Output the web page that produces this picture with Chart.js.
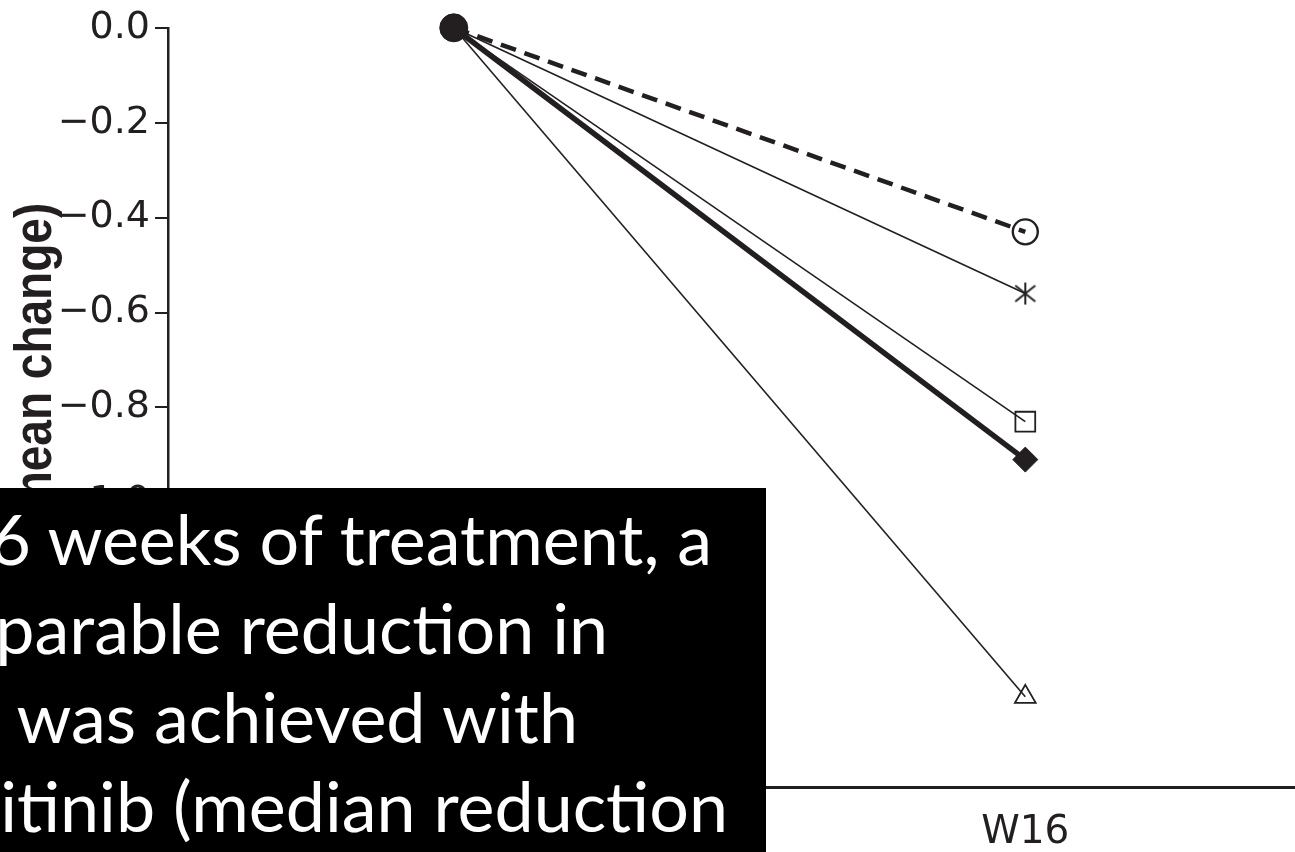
<!DOCTYPE html>
<html>
<head>
<meta charset="utf-8">
<script src="https://cdn.jsdelivr.net/npm/chart.js@4.4.0/dist/chart.umd.min.js"></script>
<style>
  html, body { margin: 0; padding: 0; background: #fff; overflow: hidden; }
  #wrap { position: relative; width: 1295px; height: 852px; }
  #chart { position: absolute; left: 0; top: 0; }
  #note { position: absolute; left: 0; top: 488px; width: 766px; height: 364px; background: #000; overflow: hidden; }
  #note div { position: absolute; white-space: pre; color: #fff; font-family: Lato, "Open Sans", sans-serif; font-size: 70px; line-height: 89px; text-align: right; }
</style>
</head>
<body>
<div id="wrap">
  <canvas id="chart" width="1295" height="852"></canvas>
  <div id="note">
    <div style="right:54px; top:6px">6 weeks of treatment, a</div>
    <div style="right:158px; top:95px">parable reduction in</div>
    <div style="right:188px; top:184px"> was achieved with</div>
    <div style="right:38px; top:273px">itinib (median reduction</div>
  </div>
</div>
<script>
// Visit weeks and mean change per treatment arm
const weeks = [0, 16];
const armCircle   = [0, -0.43];
const armStar     = [0, -0.56];
const armSquare   = [0, -0.83];
const armDiamond  = [0, -0.91];
const armTriangle = [0, -1.41];

// Axis ticks
const yTickValues = [0, -0.2, -0.4, -0.6, -0.8, -1.0, -1.2, -1.4, -1.6];
const yTickLabels = ['0.0', '\u22120.2', '\u22120.4', '\u22120.6', '\u22120.8', '\u22121.0', '\u22121.2', '\u22121.4', '\u22121.6'];
const xTickValues = [16];
const xTickLabels = ['W16'];
const yTitle = '(mean change)';

const ink = '#231f20';

// Six-armed asterisk marker
function asteriskMarker(size, lw) {
  const c = document.createElement('canvas');
  c.width = size; c.height = size;
  const g = c.getContext('2d');
  g.strokeStyle = ink;
  g.lineWidth = lw;
  const h = size / 2;
  g.beginPath();
  g.moveTo(h, 1); g.lineTo(h, size - 1);
  g.moveTo(2, 4); g.lineTo(size - 2, size - 4);
  g.moveTo(2, size - 4); g.lineTo(size - 2, 4);
  g.stroke();
  return c;
}
const starMarker = asteriskMarker(24, 2);

function pts(values) {
  return weeks.map((w, i) => ({ x: w, y: values[i] }));
}

function arm(values, opts) {
  return Object.assign({
    data: pts(values),
    borderColor: ink,
    tension: 0,
    fill: false,
    clip: false,
    pointBorderColor: ink
  }, opts);
}

const datasets = [
  arm(armTriangle, {
    borderWidth: 1.6,
    pointStyle: ['circle', 'triangle'],
    pointRadius: [13, 12],
    pointBackgroundColor: [ink, 'rgba(0,0,0,0)'],
    pointBorderWidth: [1, 1.8]
  }),
  arm(armSquare, {
    borderWidth: 1.6,
    pointStyle: ['circle', 'rect'],
    pointRadius: [13, 14],
    pointBackgroundColor: [ink, 'rgba(0,0,0,0)'],
    pointBorderWidth: [1, 1.8]
  }),
  arm(armStar, {
    borderWidth: 1.6,
    pointStyle: ['circle', starMarker],
    pointRadius: [13, 12],
    pointBackgroundColor: [ink, ink],
    pointBorderWidth: [1, 1]
  }),
  arm(armDiamond, {
    borderWidth: 5.5,
    pointStyle: ['circle', 'rectRot'],
    pointRadius: [13, 12.5],
    pointBackgroundColor: [ink, ink],
    pointBorderWidth: [1, 1]
  }),
  arm(armCircle, {
    borderWidth: 4.5,
    borderDash: [16, 9],
    pointStyle: ['circle', 'circle'],
    pointRadius: [14, 12.5],
    pointBackgroundColor: [ink, 'rgba(0,0,0,0)'],
    pointBorderWidth: [1, 2.4]
  })
];

// Rotated y-axis title, drawn on the canvas
const axisTitle = {
  id: 'axisTitle',
  afterDraw(chart) {
    const ctx = chart.ctx;
    ctx.save();
    ctx.translate(51, chart.chartArea.top + 175);
    ctx.rotate(-Math.PI / 2);
    ctx.scale(1, 1.12);
    ctx.font = 'bold 46px "Liberation Sans", Arial, sans-serif';
    ctx.fillStyle = ink;
    ctx.textAlign = 'right';
    ctx.textBaseline = 'alphabetic';
    ctx.fillText(yTitle, 0, 0);
    ctx.restore();
  }
};

new Chart(document.getElementById('chart'), {
  type: 'line',
  data: { datasets },
  plugins: [axisTitle],
  options: {
    responsive: false,
    animation: false,
    events: [],
    devicePixelRatio: 1,
    layout: { autoPadding: false, padding: { top: 25, right: 0, bottom: 0, left: 0 } },
    plugins: { legend: { display: false }, tooltip: { enabled: false } },
    scales: {
      x: {
        type: 'linear',
        min: -8,
        max: 23.55,
        afterBuildTicks(scale) { scale.ticks = xTickValues.map(v => ({ value: v })); },
        afterFit(scale) { scale.height = 65; },
        grid: { display: false, drawTicks: false },
        border: { display: true, color: ink, width: 3 },
        ticks: {
          padding: 22,
          color: ink,
          font: { family: '"DejaVu Sans", sans-serif', size: 39 },
          maxRotation: 0,
          callback: (v, i) => xTickLabels[i]
        }
      },
      y: {
        type: 'linear',
        min: -1.6,
        max: 0,
        afterBuildTicks(scale) { scale.ticks = yTickValues.map(v => ({ value: v })); },
        afterFit(scale) { scale.width = 168; },
        grid: { display: true, drawOnChartArea: false, drawTicks: true, tickLength: 13, color: ink, lineWidth: 2 },
        border: { display: true, color: ink, width: 2.5 },
        ticks: {
          padding: 5,
          color: ink,
          font: { family: '"DejaVu Sans", sans-serif', size: 38 },
          callback: (v, i) => yTickLabels[i]
        }
      }
    }
  }
});
</script>
</body>
</html>
